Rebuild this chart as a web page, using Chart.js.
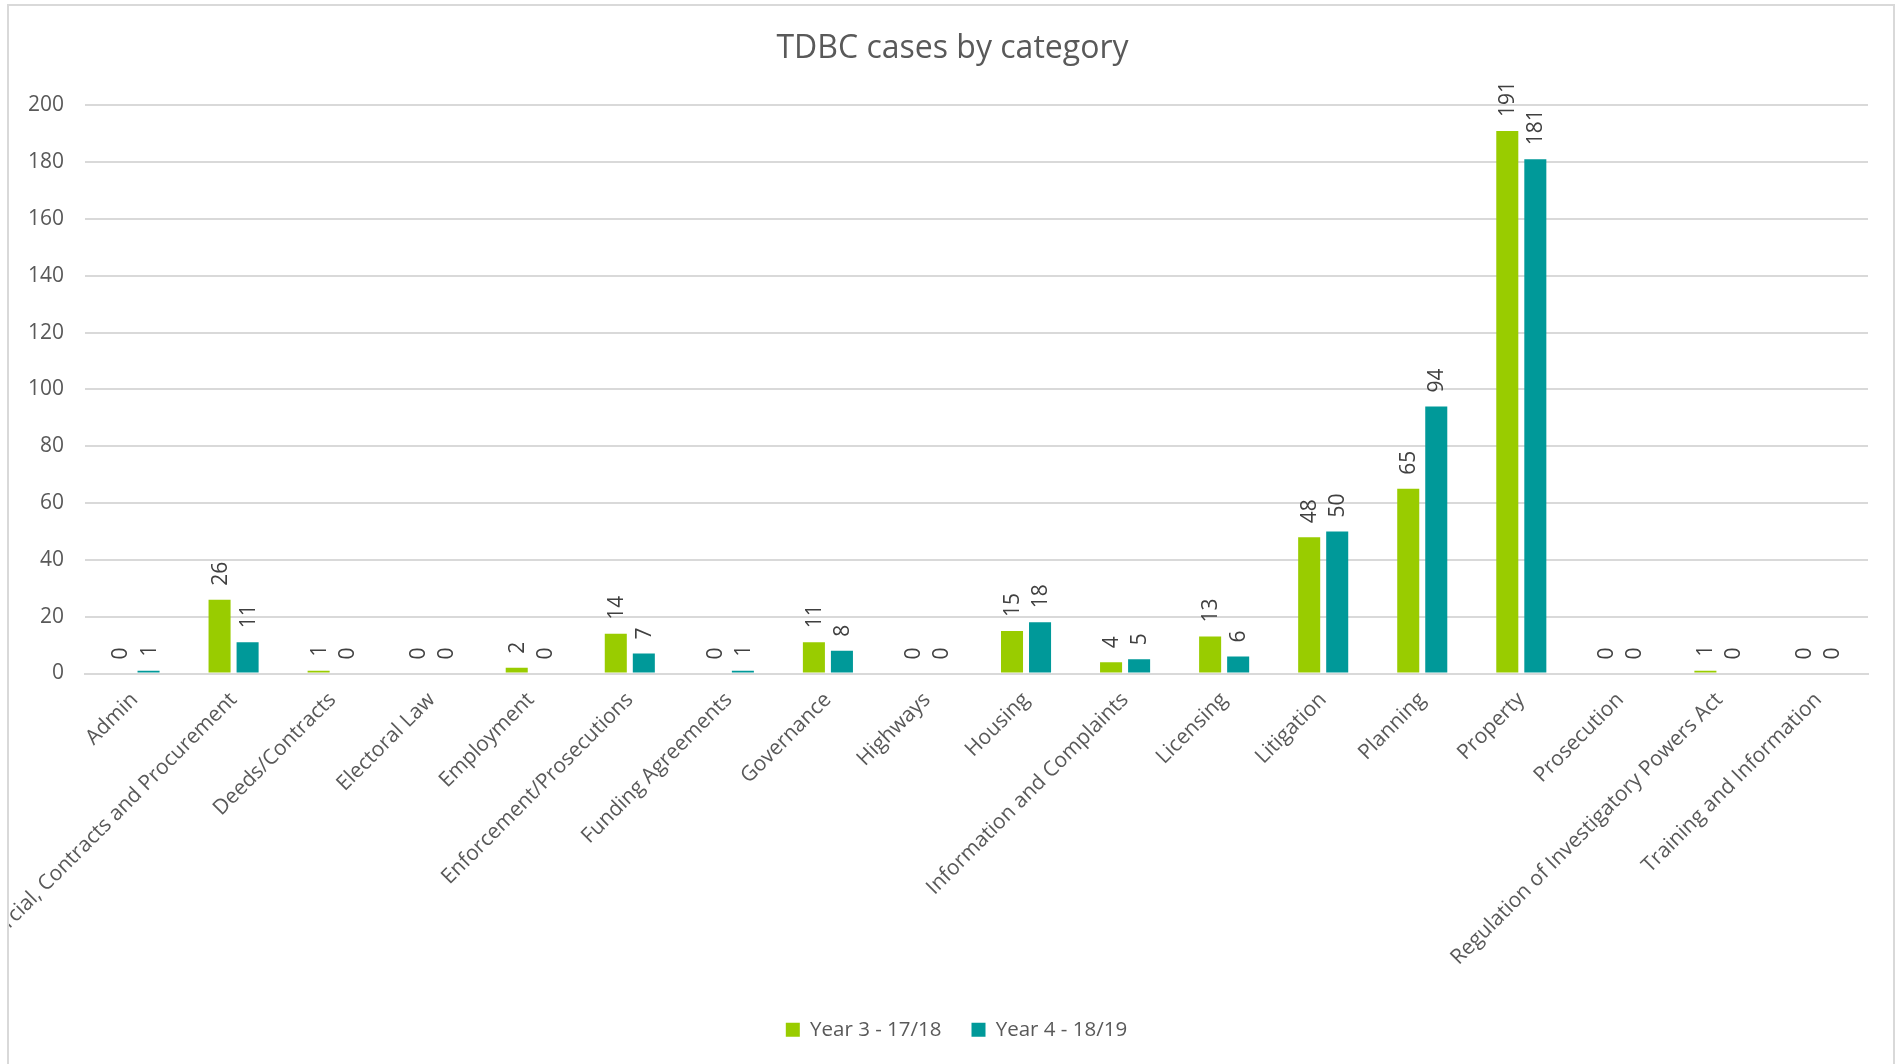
<!DOCTYPE html>
<html>
<head>
<meta charset="utf-8">
<script src="https://cdn.jsdelivr.net/npm/chart.js@4.4.0/dist/chart.umd.min.js"></script>
<style>
  body { margin: 0; background: #fff; }
  #wrap {
    position: absolute; left: 7px; top: 4px;
    width: 1884px; height: 1070px;
    border: 2px solid #d9d9d9;
  }
</style>
</head>
<body>
<div id="wrap"><canvas id="myChart" width="1884" height="1064"></canvas></div>
<script>
const categories = [
  'Admin',
  'Commercial, Contracts and Procurement',
  'Deeds/Contracts',
  'Electoral Law',
  'Employment',
  'Enforcement/Prosecutions',
  'Funding Agreements',
  'Governance',
  'Highways',
  'Housing',
  'Information and Complaints',
  'Licensing',
  'Litigation',
  'Planning',
  'Property',
  'Prosecution',
  'Regulation of Investigatory Powers Act',
  'Training and Information'
];
const year3 = [0, 26, 1, 0, 2, 14, 0, 11, 0, 15, 4, 13, 48, 65, 191, 0, 1, 0];
const year4 = [1, 11, 0, 0, 0, 7, 1, 8, 0, 18, 5, 6, 50, 94, 181, 0, 0, 0];
const yTicks = [0, 20, 40, 60, 80, 100, 120, 140, 160, 180, 200];

Chart.defaults.font.family = "'Open Sans', sans-serif";
Chart.defaults.color = '#595959';

// value labels, turned to read bottom-to-top, just above each bar
const barValues = {
  id: 'barValues',
  afterDatasetsDraw(chart) {
    const c = chart.ctx;
    c.save();
    c.font = "21px 'Open Sans', sans-serif";
    c.fillStyle = '#404040';
    c.textAlign = 'left';
    c.textBaseline = 'middle';
    chart.data.datasets.forEach((ds, i) => {
      chart.getDatasetMeta(i).data.forEach((bar, j) => {
        c.save();
        c.translate(bar.x + 1, bar.y - 14);
        c.rotate(-Math.PI / 2);
        c.fillText(String(ds.data[j]), 0, 0);
        c.restore();
      });
    });
    c.restore();
  }
};

// title and legend sit a little right of the canvas centre in the original
const nudgeBlocks = {
  id: 'nudgeBlocks',
  afterLayout(chart) {
    chart.legend.left += 18;
    chart.legend.right += 18;
    chart.titleBlock.left += 14;
    chart.titleBlock.right += 14;
  }
};

var ctx = document.getElementById('myChart').getContext('2d');
var myChart = new Chart(ctx, {
  type: 'bar',
  data: {
    labels: categories,
    datasets: [{
      label: 'Year 3 - 17/18',
      data: year3,
      backgroundColor: '#99cc00',
      borderWidth: 0,
      categoryPercentage: 0.566,
      barPercentage: 0.786
    },
    {
      label: 'Year 4 - 18/19',
      data: year4,
      backgroundColor: '#009999',
      borderWidth: 0,
      categoryPercentage: 0.566,
      barPercentage: 0.786
    }]
  },
  options: {
    responsive: false,
    animation: false,
    layout: { padding: { left: 0, right: 25, top: 0, bottom: 20 } },
    plugins: {
      title: {
        display: true,
        text: 'TDBC cases by category',
        color: '#595959',
        font: { size: 32, weight: 'normal' },
        padding: { top: 24, bottom: 37 }
      },
      legend: {
        position: 'bottom',
        labels: {
          boxWidth: 14,
          boxHeight: 14,
          padding: 30,
          color: '#595959',
          font: { size: 20.5 }
        }
      },
      tooltip: { enabled: false }
    },
    scales: {
      x: {
        grid: { display: false },
        border: { color: '#d9d9d9', width: 2 },
        ticks: {
          autoSkip: false,
          minRotation: 45,
          maxRotation: 45,
          padding: 6,
          color: '#595959',
          font: { size: 21 }
        },
        afterFit: function (scale) { scale.height = 316; }
      },
      y: {
        min: 0,
        max: 200,
        afterBuildTicks: function (scale) {
          scale.ticks = yTicks.map(v => ({ value: v }));
        },
        grid: { color: '#d9d9d9', lineWidth: 2, drawTicks: false },
        border: { display: false },
        ticks: {
          padding: 21,
          color: '#595959',
          font: { size: 21 }
        },
        afterFit: function (scale) { scale.width = 76; }
      }
    }
  },
  plugins: [barValues, nudgeBlocks]
});
</script>
</body>
</html>
